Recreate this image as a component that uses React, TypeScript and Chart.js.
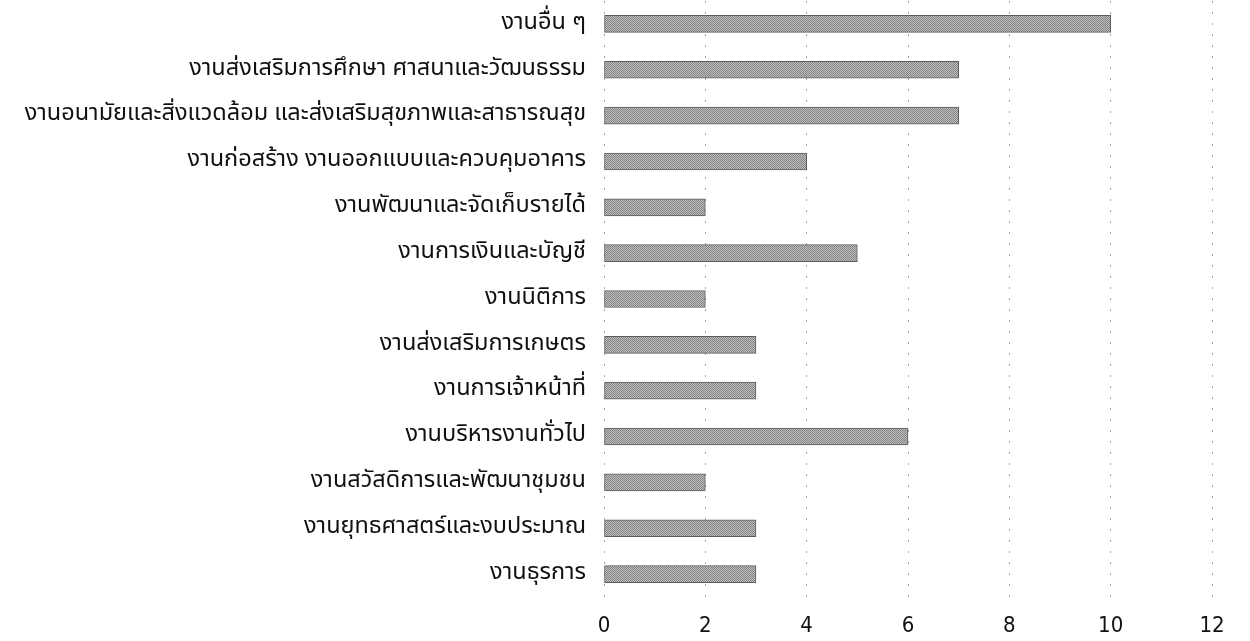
import React, { useEffect, useRef } from "react";
import { Chart, registerables } from "chart.js";

Chart.register(...registerables);

// Work units (top to bottom) and their counts
const categories: string[] = [
  "งานอื่น ๆ",
  "งานส่งเสริมการศึกษา ศาสนาและวัฒนธรรม",
  "งานอนามัยและสิ่งแวดล้อม และส่งเสริมสุขภาพและสาธารณสุข",
  "งานก่อสร้าง งานออกแบบและควบคุมอาคาร",
  "งานพัฒนาและจัดเก็บรายได้",
  "งานการเงินและบัญชี",
  "งานนิติการ",
  "งานส่งเสริมการเกษตร",
  "งานการเจ้าหน้าที่",
  "งานบริหารงานทั่วไป",
  "งานสวัสดิการและพัฒนาชุมชน",
  "งานยุทธศาสตร์และงบประมาณ",
  "งานธุรการ",
];
const counts: number[] = [10, 7, 7, 4, 2, 5, 2, 3, 3, 6, 2, 3, 3];
const xTicks: number[] = [0, 2, 4, 6, 8, 10, 12];

// Fine grey checker tile used as the bar fill
function makeDither(): CanvasPattern | string {
  const c = document.createElement("canvas");
  c.width = 2;
  c.height = 2;
  const g = c.getContext("2d");
  if (!g) return "#9e9e9e";
  g.fillStyle = "#858585";
  g.fillRect(0, 0, 2, 2);
  g.fillStyle = "#bdbdbd";
  g.fillRect(1, 0, 1, 1);
  g.fillRect(0, 1, 1, 1);
  const p = g.createPattern(c, "repeat");
  return p || "#9e9e9e";
}

export default function App() {
  const ref = useRef<HTMLCanvasElement | null>(null);

  useEffect(() => {
    if (!ref.current) return;
    const chart = new Chart(ref.current, {
      type: "bar",
      data: {
        labels: categories,
        datasets: [
          {
            data: counts,
            backgroundColor: makeDither(),
            borderColor: "#5e5e5e",
            borderWidth: 1,
            borderSkipped: false,
            barThickness: 17,
          },
        ],
      },
      options: {
        indexAxis: "y",
        animation: false,
        responsive: false,
        maintainAspectRatio: false,
        layout: { padding: { top: 1, right: 38, bottom: 0, left: 0 } },
        plugins: {
          legend: { display: false },
          tooltip: { enabled: false },
        },
        scales: {
          x: {
            min: 0,
            max: 12,
            afterBuildTicks: (s: any) => {
              s.ticks = xTicks.map((v) => ({ value: v }));
            },
            afterFit: (s: any) => {
              s.height = 44;
              s.paddingLeft = 0;
              s.paddingRight = 0;
            },
            border: { display: false, dash: [2, 9] },
            grid: {
              color: "rgba(0,0,0,0.35)",
              lineWidth: 1,
              drawTicks: false,
            },
            ticks: {
              padding: 16,
              color: "#111",
              font: {
                family: "'Liberation Sans Narrow', 'DejaVu Sans Condensed', 'Liberation Sans', sans-serif",
                size: 22,
              },
            },
          },
          y: {
            afterFit: (s: any) => {
              s.width = 604;
              s.paddingTop = 0;
              s.paddingBottom = 0;
            },
            border: { display: false },
            grid: { display: false, drawTicks: false },
            ticks: {
              padding: 18,
              color: "#111",
              autoSkip: false,
              font: {
                family: "'Noto Sans Thai', 'Noto Sans', 'DejaVu Sans', sans-serif",
                size: 23.5,
              },
            },
          },
        },
      },
    } as any);
    return () => chart.destroy();
  }, []);

  return (
    <div style={{ position: "fixed", left: 0, top: 0, width: 1250, height: 641, background: "#fff" }}>
      <canvas ref={ref} width={1250} height={641} style={{ width: 1250, height: 641 }} />
    </div>
  );
}
